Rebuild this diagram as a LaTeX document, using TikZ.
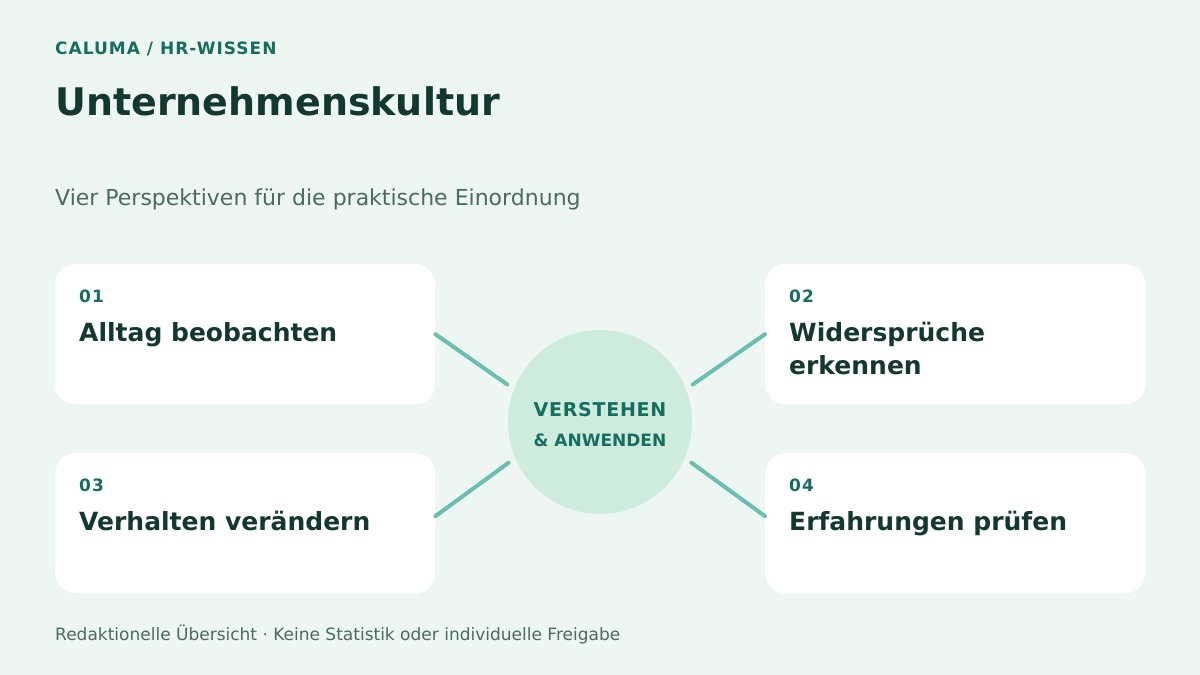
\documentclass[tikz,border=0pt]{standalone}
\usepackage{fontspec}
\setmainfont{DejaVu Sans}
\usetikzlibrary{positioning}

\begin{document}
\begin{tikzpicture}[x=1pt,y=-1pt,
  card/.style={fill=white,rounded corners=20pt,minimum width=380pt,minimum height=140pt,inner sep=0pt,anchor=north west},
  num/.style={anchor=base west,inner sep=0pt,text={rgb,255:red,22;green,110;blue,94},font=\fontsize{17}{20}\selectfont\bfseries\addfontfeature{LetterSpace=6}},
  head/.style={anchor=base west,inner sep=0pt,align=left,text={rgb,255:red,19;green,56;blue,48},font=\fontsize{25}{33}\selectfont\bfseries},
  spoke/.style={draw={rgb,255:red,107;green,191;blue,176},line width=4pt,line cap=round}]
% 1200 × 675, light appearance
\path[fill={rgb,255:red,238;green,246;blue,243}] (0,0) rectangle (1200,675);
\useasboundingbox (0,0) rectangle (1200,675);
\node[anchor=base west,inner sep=0pt,text={rgb,255:red,22;green,110;blue,94},font=\fontsize{17}{20}\selectfont\bfseries\addfontfeature{LetterSpace=6}] (kicker) at (55,54) {CALUMA / HR-WISSEN};
\node[anchor=base west,inner sep=0pt,text={rgb,255:red,19;green,56;blue,48},font=\fontsize{38}{46}\selectfont\bfseries] (title) at (55,115) {Unternehmenskultur};
\node[anchor=base west,inner sep=0pt,text={rgb,255:red,74;green,107;blue,98},font=\fontsize{22}{26}\selectfont] (sub) at (55,205) {Vier Perspektiven für die praktische Einordnung};
\node[card] (c1) at (55,264) {};
\node[card] (c2) at (765,264) {};
\node[card] (c3) at (55,453) {};
\node[card] (c4) at (765,453) {};
\node[num] (n1) at ([shift={(24,38)}]c1.north west) {01};
\node[num] (n2) at ([shift={(24,38)}]c2.north west) {02};
\node[num] (n3) at ([shift={(24,38)}]c3.north west) {03};
\node[num] (n4) at ([shift={(24,38)}]c4.north west) {04};
\node[head] (h1) at ([shift={(24,77)}]c1.north west) {Alltag beobachten};
\node[head] (h2) at ([shift={(24,110)}]c2.north west) {Widersprüche\\erkennen};
\node[head] (h3) at ([shift={(24,77)}]c3.north west) {Verhalten verändern};
\node[head] (h4) at ([shift={(24,77)}]c4.north west) {Erfahrungen prüfen};
\node[circle,fill={rgb,255:red,205;green,236;blue,222},minimum size=184pt,inner sep=0pt,outer sep=8pt] (hub) at (600,422) {};
\node[inner sep=0pt,text={rgb,255:red,22;green,110;blue,94},font=\fontsize{19}{22}\selectfont\bfseries\addfontfeature{LetterSpace=4},anchor=base] (v1) at (600,416) {VERSTEHEN};
\node[inner sep=0pt,text={rgb,255:red,22;green,110;blue,94},font=\fontsize{17}{20}\selectfont\bfseries,anchor=base] (v2) at (600,446) {\& ANWENDEN};
\draw[spoke] (c1.east) -- (hub.158);
\draw[spoke] (c2.west) -- (hub.22);
\draw[spoke] ([yshift=7pt]c3.east) -- (hub.204);
\draw[spoke] ([yshift=7pt]c4.west) -- (hub.336);
\node[anchor=base west,inner sep=0pt,text={rgb,255:red,74;green,107;blue,98},font=\fontsize{17}{20}\selectfont] (foot) at (55,640) {Redaktionelle Übersicht · Keine Statistik oder individuelle Freigabe};
\end{tikzpicture}
\end{document}
